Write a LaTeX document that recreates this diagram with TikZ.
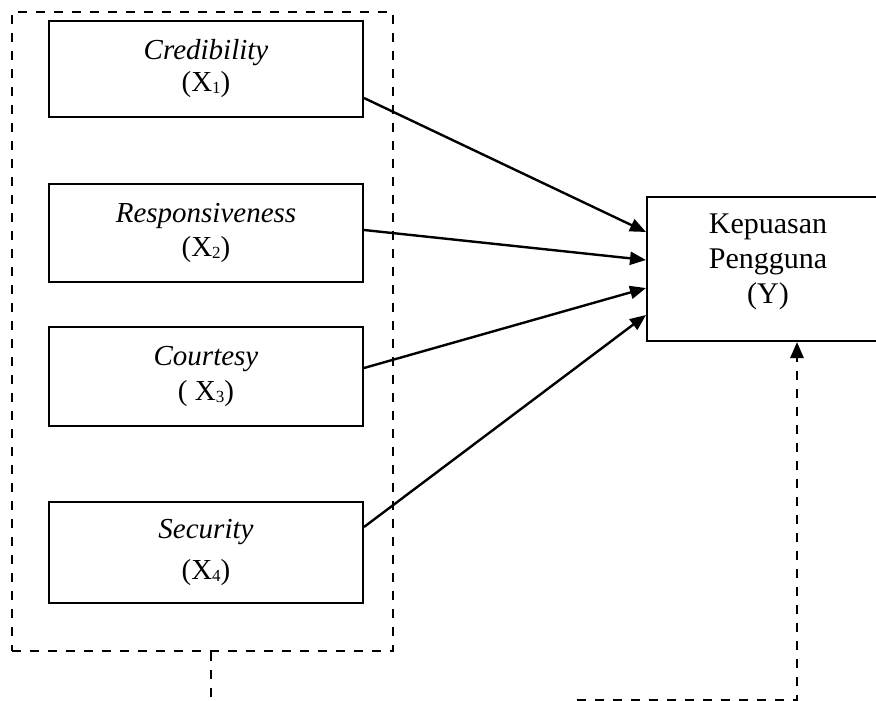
\documentclass[tikz,border=0pt]{standalone}
\usepackage{fontspec}
\setmainfont{Liberation Serif}
\usetikzlibrary{arrows.meta}
\newcommand\mysub[1]{\raisebox{-2pt}{\fontsize{17}{17}\selectfont #1}}
\begin{document}
\begin{tikzpicture}[x=1pt,y=-1pt,
  box/.style={draw,line width=2pt,inner sep=0pt,rectangle,align=center,
    font=\fontsize{29}{32}\selectfont},
  dline/.style={line width=2.8pt,dash pattern=on 9pt off 9pt},
  tip/.style={-{Triangle[length=16pt,width=13pt]}},
  conn/.style={line width=2.4pt,tip}]
\useasboundingbox (0,0) rectangle (876,701);
\clip (0,0) rectangle (876,701);
% outer dashed group
\node[draw,dline,minimum width=381pt,minimum height=639pt,inner sep=0pt] (outer) at (202.5,331.5) {};
% variable boxes
\node[box,minimum width=314pt,minimum height=96pt] (cred) at (206,69)
  {\textit{Credibility}\\(X\mysub{1})};
\node[box,minimum width=314pt,minimum height=98pt] (resp) at (206,233)
  {\textit{Responsiveness}\\[2pt](X\mysub{2})};
\node[box,minimum width=314pt,minimum height=99pt] (cour) at (206,376.5)
  {\textit{Courtesy}\\[3pt]( X\mysub{3})};
\node[box,minimum width=314pt,minimum height=101pt] (secu) at (206,552.5)
  {\textit{Security}\\[9pt](X\mysub{4})};
% dependent variable
\node[box,minimum width=242pt,minimum height=144pt] (Y) at (768,269) {};
\node[align=center,inner sep=0pt,font=\fontsize{30}{35}\selectfont] (ytext) at (768,262)
  {Kepuasan\\Pengguna\\(Y)};
% connectors
\draw[conn] ([yshift=-29pt]cred.east) -- ([yshift=37pt]Y.west);
\draw[conn] ([yshift=3pt]resp.east) -- ([yshift=9pt]Y.west);
\draw[conn] ([yshift=8.5pt]cour.east) -- ([yshift=-19pt]Y.west);
\draw[conn] ([yshift=25.5pt]secu.east) -- ([yshift=-46pt]Y.west);
% bottom dashed link
\coordinate (b1) at (211,705);
\coordinate (b2) at (577,700);
\coordinate (b3) at (797,700);
\draw[dline] ([xshift=8.5pt]outer.south) -- (b1);
\draw[dline,tip] (b2) -- (b3) -- (Y.south -| b3);
\end{tikzpicture}
\end{document}
